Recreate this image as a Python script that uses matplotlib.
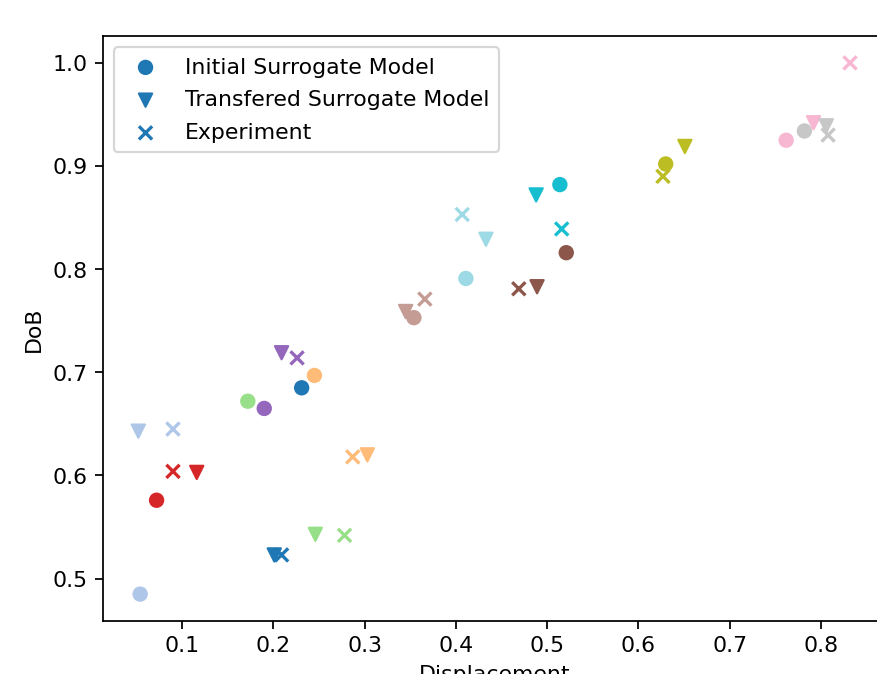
import matplotlib
matplotlib.use("Agg")
import matplotlib.pyplot as plt

# sample index -> colour in tab20 (normalised over 0..12)
sample_ids = list(range(13))

init_x = [0.231, 0.054, 0.245, 0.172, 0.072, 0.190, 0.521, 0.354, 0.762, 0.782, 0.630, 0.514, 0.411]
init_y = [0.685, 0.485, 0.697, 0.672, 0.576, 0.665, 0.816, 0.753, 0.925, 0.934, 0.902, 0.882, 0.791]

trans_x = [0.201, 0.052, 0.303, 0.246, 0.116, 0.209, 0.489, 0.345, 0.792, 0.806, 0.651, 0.488, 0.433]
trans_y = [0.523, 0.643, 0.620, 0.543, 0.603, 0.719, 0.783, 0.759, 0.942, 0.939, 0.919, 0.872, 0.829]

exp_x = [0.209, 0.090, 0.287, 0.278, 0.090, 0.226, 0.469, 0.366, 0.832, 0.808, 0.627, 0.516, 0.407]
exp_y = [0.523, 0.645, 0.618, 0.542, 0.604, 0.714, 0.781, 0.771, 1.000, 0.930, 0.890, 0.839, 0.853]

dpi = 158
fig = plt.figure(figsize=(877.4 / dpi, 674.4 / dpi), dpi=dpi)
# axes runs a little past the right edge, like the cropped original
ax = fig.add_axes([102.7 / 877, 53.3 / 674, 782.5 / 877, 584 / 674])

ax.scatter(init_x, init_y, c=sample_ids, cmap='tab20', vmin=0, vmax=12,
           marker='o', label='Initial Surrogate Model')
ax.scatter(trans_x, trans_y, c=sample_ids, cmap='tab20', vmin=0, vmax=12,
           marker='v', label='Transfered Surrogate Model')
ax.scatter(exp_x, exp_y, c=sample_ids, cmap='tab20', vmin=0, vmax=12,
           marker='x', label='Experiment')

# right spine falls outside the crop in the original
ax.spines['right'].set_visible(False)

ax.set_xlabel('Displacement')
ax.set_ylabel('DoB')
ax.legend(loc='upper left', borderpad=0.45, labelspacing=0.58)

fig.savefig('out.png', dpi=dpi)
